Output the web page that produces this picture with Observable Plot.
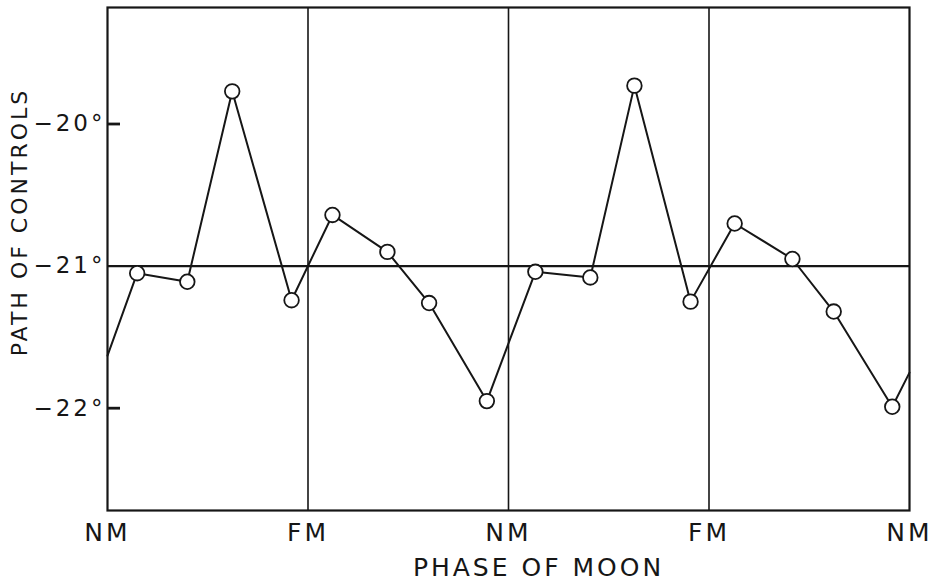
<!DOCTYPE html>
<html>
<head>
<meta charset="utf-8">
<script src="https://cdn.jsdelivr.net/npm/d3@7"></script>
<script src="https://cdn.jsdelivr.net/npm/@observablehq/plot@0.6"></script>
<style>
  html, body { margin: 0; padding: 0; background: #fff; }
</style>
</head>
<body>
<div id="chart"></div>
<script>
// Phase of the moon, in lunar months (0 = new moon, 0.5 = full moon), two cycles plotted
const phase = [0.074, 0.199, 0.311, 0.459, 0.561, 0.698, 0.802, 0.946,
               1.067, 1.204, 1.314, 1.454, 1.564, 1.708, 1.811, 1.957];
// Mean path of controls, degrees
const path = [-21.05, -21.11, -19.77, -21.24, -20.64, -20.90, -21.26, -21.95,
              -21.04, -21.08, -19.73, -21.25, -20.70, -20.95, -21.32, -21.99];
// Where the wrapped curve meets the left and right edges
const edgePhase = [0, 2];
const edgePath = [-21.63, -21.75];

const phaseTicks = [0, 0.5, 1, 1.5, 2];
const phaseLabels = ["NM", "FM", "NM", "FM", "NM"];
const pathTicks = [-20, -21, -22];

const points = phase.map((p, i) => ({phase: p, path: path[i]}));
const curve = [...points, ...edgePhase.map((p, i) => ({phase: p, path: edgePath[i]}))]
  .sort((a, b) => a.phase - b.phase);
const phaseName = new Map(phaseTicks.map((t, i) => [t, phaseLabels[i]]));

const ink = "#161616";
const W = 944, H = 582;
const margin = {left: 107, right: 35, top: 7, bottom: 72};
const plotWidth = W - margin.left - margin.right;
const tickLength = 13;

const chart = Plot.plot({
  width: W,
  height: H,
  marginLeft: margin.left,
  marginRight: margin.right,
  marginTop: margin.top,
  marginBottom: margin.bottom,
  x: {domain: [0, 2]},
  y: {domain: [-22.72, -19.18]},
  style: {fontFamily: "DejaVu Sans", color: ink, background: "#fff", letterSpacing: "3px"},
  marks: [
    Plot.ruleX(phaseTicks.slice(1, -1), {stroke: ink, strokeWidth: 1.6}),
    Plot.ruleY([pathTicks[1]], {stroke: ink, strokeWidth: 2.2}),
    Plot.frame({stroke: ink, strokeWidth: 2.2}),
    // short inward ticks at -20° and -22°
    Plot.tickY([pathTicks[0], pathTicks[2]], {
      insetRight: plotWidth - tickLength, stroke: ink, strokeWidth: 2.8
    }),
    Plot.axisY(pathTicks, {tickSize: 0, tickPadding: 2, fontSize: 23, fill: ink,
      tickFormat: d => `\u2212${Math.abs(d)}°`, label: null}),
    Plot.axisX(phaseTicks, {tickSize: 0, tickPadding: 13, fontSize: 25, fill: ink,
      tickFormat: d => phaseName.get(d), label: null}),
    Plot.text(["PHASE OF MOON"], {frameAnchor: "bottom", textAnchor: "middle", lineAnchor: "middle",
      dx: 30, dy: 57, fontSize: 25, fill: ink}),
    Plot.text(["PATH OF CONTROLS"], {frameAnchor: "left", textAnchor: "middle", lineAnchor: "middle",
      rotate: -90, dx: -88, dy: -37, fontSize: 22, fill: ink}),
    Plot.line(curve, {x: "phase", y: "path", stroke: ink, strokeWidth: 2}),
    Plot.dot(points, {x: "phase", y: "path", r: 7.3, fill: "#fff", stroke: ink, strokeWidth: 1.8})
  ]
});

document.getElementById("chart").appendChild(chart);
</script>
</body>
</html>
